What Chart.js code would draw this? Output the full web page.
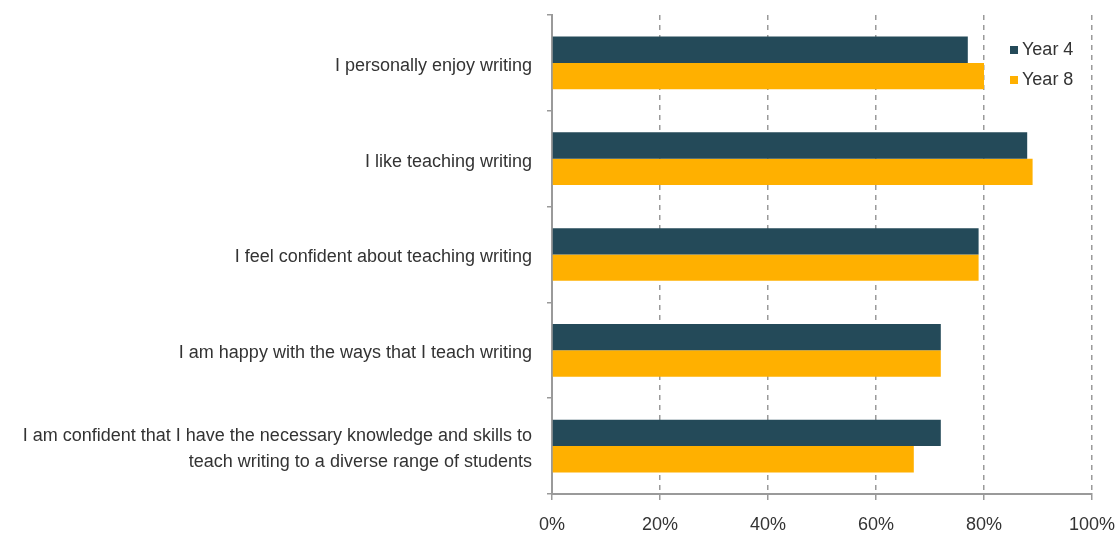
<!DOCTYPE html>
<html>
<head>
<meta charset="utf-8">
<script src="https://cdn.jsdelivr.net/npm/chart.js@4"></script>
<style>
  html, body { margin: 0; padding: 0; background: #fff; }
  #wrap { width: 1116px; height: 549px; position: relative; }
</style>
</head>
<body>
<div id="wrap"><canvas id="chart"></canvas></div>
<script>
// Teacher attitudes to writing, Year 4 vs Year 8 (% agree)
const statements = [
  'I personally enjoy writing',
  'I like teaching writing',
  'I feel confident about teaching writing',
  'I am happy with the ways that I teach writing',
  ['I am confident that I have the necessary knowledge and skills to',
   'teach writing to a diverse range of students'],
];
const year4 = [77, 88, 79, 72, 72];
const year8 = [80, 89, 79, 72, 67];
const seriesNames = ['Year 4', 'Year 8'];
const xTicks = [0, 20, 40, 60, 80, 100];

const COLOR = {
  year4: '#244a59',
  year8: '#ffb000',
  axis:  '#9a9a9a',
  grid:  '#9a9a9a',
  text:  '#333333',
};
const FONT = '"Liberation Sans", Arial, sans-serif';

// legend drawn as a small vertical list inside the plot, top right
const insideLegend = {
  id: 'insideLegend',
  afterDraw(chart) {
    const ctx = chart.ctx;
    ctx.save();
    ctx.font = '18px ' + FONT;
    ctx.textBaseline = 'middle';
    chart.data.datasets.forEach((ds, i) => {
      const y = 50 + i * 30;
      ctx.fillStyle = ds.backgroundColor;
      ctx.fillRect(1010, y - 4, 8, 8);
      ctx.fillStyle = COLOR.text;
      ctx.fillText(ds.label, 1022, y);
    });
    ctx.restore();
  }
};

// keep the plot box fixed: drop the extra room scales reserve for edge labels
const noEdgePadding = (s) => {
  s.paddingLeft = 0; s.paddingRight = 0;
  s.paddingTop = 0; s.paddingBottom = 0;
};

new Chart(document.getElementById('chart').getContext('2d'), {
  type: 'bar',
  data: {
    labels: statements,
    datasets: [
      { label: seriesNames[0], data: year4, backgroundColor: COLOR.year4 },
      { label: seriesNames[1], data: year8, backgroundColor: COLOR.year8 },
    ],
  },
  options: {
    indexAxis: 'y',
    responsive: true,
    maintainAspectRatio: false,
    animation: false,
    layout: { padding: { top: 15, right: 24, left: 0, bottom: 0 } },
    datasets: { bar: { categoryPercentage: 0.55, barPercentage: 1.0 } },
    plugins: {
      legend: { display: false },
      tooltip: { enabled: false },
    },
    scales: {
      x: {
        min: 0,
        max: 100,
        afterBuildTicks: (s) => { s.ticks = xTicks.map(v => ({ value: v })); },
        afterFit: (s) => { s.height = 55; noEdgePadding(s); },
        border: { display: true, color: COLOR.axis, width: 2, dash: [5, 5] },
        grid: {
          color: COLOR.grid,
          lineWidth: 1.5,
          tickLength: 6,
          tickColor: COLOR.grid,
          tickBorderDash: [],
        },
        ticks: {
          color: COLOR.text,
          padding: 14,
          font: { family: FONT, size: 18 },
          callback: (v) => v + '%',
        },
      },
      y: {
        afterFit: (s) => { s.width = 552; noEdgePadding(s); },
        border: { display: true, color: COLOR.axis, width: 2 },
        grid: {
          offset: true,
          drawOnChartArea: false,
          tickLength: 5,
          tickColor: COLOR.axis,
          lineWidth: 1.5,
        },
        ticks: {
          color: COLOR.text,
          padding: 15,
          labelOffset: 3,
          font: { family: FONT, size: 18, lineHeight: 1.4 },
        },
      },
    },
  },
  plugins: [insideLegend],
});
</script>
</body>
</html>
